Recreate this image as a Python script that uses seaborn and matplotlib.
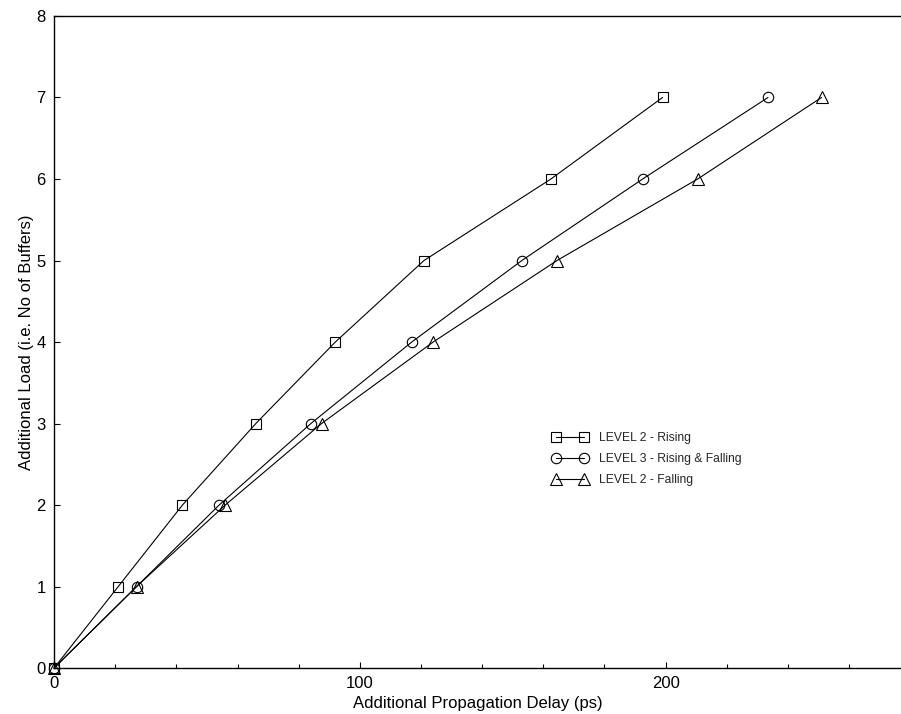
import matplotlib
matplotlib.use("Agg")
import matplotlib.pyplot as plt
from matplotlib.ticker import MultipleLocator
import seaborn as sns

load = [0, 1, 2, 3, 4, 5, 6, 7]
delay_l2_rising = [0, 21, 42, 66, 92, 121, 162.5, 199]
delay_l3_both = [0, 27, 54, 84, 117, 153, 192.5, 233.5]
delay_l2_falling = [0, 27, 56, 87.5, 124, 164.5, 210.5, 251]

series = [
    ("LEVEL 2 - Rising", delay_l2_rising, "s", 6.5),
    ("LEVEL 3 - Rising & Falling", delay_l3_both, "o", 7.5),
    ("LEVEL 2 - Falling", delay_l2_falling, "^", 8.5),
]

sns.set_style("white")
plt.rcParams["font.family"] = ["Liberation Sans", "DejaVu Sans"]

fig = plt.figure(figsize=(9.01, 7.14), dpi=100)
ax = fig.add_axes([0.06, 0.0644, 0.94, 0.9132])

for name, xs, mk, ms in series:
    sns.lineplot(x=xs, y=load, ax=ax, label=name, color="black", linewidth=0.8,
                 marker=mk, markersize=ms, markerfacecolor="none",
                 markeredgecolor="black", markeredgewidth=0.8, clip_on=False,
                 sort=False)

ax.set_xlim(0, 277)
ax.set_ylim(0, 8)
ax.xaxis.set_major_locator(MultipleLocator(100))
ax.xaxis.set_minor_locator(MultipleLocator(20))
ax.yaxis.set_major_locator(MultipleLocator(1))
ax.tick_params(axis="both", which="both", direction="in", labelsize=12,
               labelcolor="black", left=True, bottom=True, color="black")
ax.tick_params(which="major", length=4, width=0.8, pad=6)
ax.tick_params(which="minor", length=3, width=0.8)
for side in ["left", "bottom", "top"]:
    ax.spines[side].set_color("black")
    ax.spines[side].set_linewidth(1.0)
ax.spines["right"].set_visible(False)

ax.set_xlabel("Additional Propagation Delay (ps)", fontsize=12, labelpad=3,
              color="black")
ax.set_ylabel("Additional Load (i.e. No of Buffers)", fontsize=12, labelpad=2,
              color="black")

ax.legend(loc="upper left", bbox_to_anchor=(0.576, 0.379), frameon=False,
          fontsize=8.7, numpoints=2, handlelength=2.9, handletextpad=0.9,
          labelspacing=0.75)

fig.savefig("out.png", dpi=100)
